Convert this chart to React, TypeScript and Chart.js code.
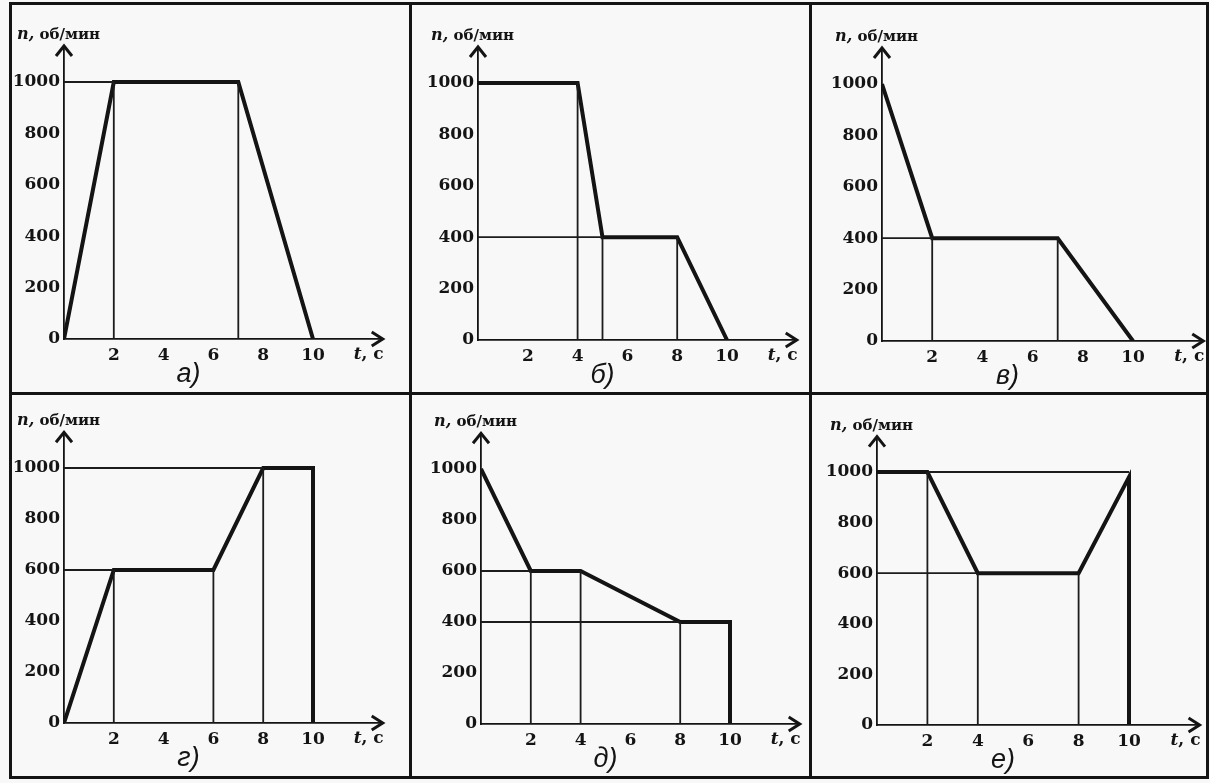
import React, { useEffect, useRef } from 'react';
import { Chart, registerables } from 'chart.js';

Chart.register(...registerables);

// ---- shared axis data ----
const xTicks = [2, 4, 6, 8, 10];
const yTicks = [0, 200, 400, 600, 800, 1000];
const X_MAX = 12.8;
const Y_MAX = 1140;
const yTitleVar = 'n,';
const yTitleUnit = ' об/мин';
const xTitleVar = 't';
const xTitleUnit = ', с';
const panelLetters = ['а)', 'б)', 'в)', 'г)', 'д)', 'е)'];

// ---- speed profiles (t, s ; n, rpm) ----
const timeA = [0, 2, 7, 10];
const speedA = [0, 1000, 1000, 0];
const timeB = [0, 4, 5, 8, 10];
const speedB = [1000, 1000, 400, 400, 0];
const timeV = [0, 2, 7, 10];
const speedV = [1000, 400, 400, 0];
const timeG = [0, 2, 6, 8, 10, 10];
const speedG = [0, 600, 600, 1000, 1000, 0];
const timeD = [0, 2, 4, 8, 10, 10];
const speedD = [1000, 600, 600, 400, 400, 0];
const timeE = [0, 2, 4, 8, 10, 10];
const speedE = [1000, 1000, 600, 600, 980, 0];

// ---- thin projection lines: [t1, n1, t2, n2] ----
const guidesA = [[2, 0, 2, 1000], [7, 0, 7, 1000], [0, 1000, 2, 1000]];
const guidesB = [[4, 0, 4, 1000], [5, 0, 5, 400], [8, 0, 8, 400], [0, 400, 5, 400]];
const guidesV = [[2, 0, 2, 400], [7, 0, 7, 400], [0, 400, 2, 400]];
const guidesG = [[2, 0, 2, 600], [6, 0, 6, 600], [8, 0, 8, 1000], [0, 600, 2, 600], [0, 1000, 8, 1000]];
const guidesD = [[2, 0, 2, 600], [4, 0, 4, 600], [8, 0, 8, 400], [0, 600, 2, 600], [0, 400, 8, 400]];
const guidesE = [[2, 0, 2, 1000], [4, 0, 4, 600], [8, 0, 8, 600], [0, 600, 4, 600], [2, 1000, 10, 1000]];

const profiles = [
  { t: timeA, n: speedA, g: guidesA },
  { t: timeB, n: speedB, g: guidesB },
  { t: timeV, n: speedV, g: guidesV },
  { t: timeG, n: speedG, g: guidesG },
  { t: timeD, n: speedD, g: guidesD },
  { t: timeE, n: speedE, g: guidesE },
];

// ---- page layout (pixels) ----
const panelBoxes = [
  { left: 10, top: 3, w: 400, h: 390, axisX: 54, unit: 24.9, y0: 336, y1000: 79 },
  { left: 410, top: 3, w: 400, h: 390, axisX: 68, unit: 24.9, y0: 337, y1000: 80 },
  { left: 810, top: 3, w: 397, h: 390, axisX: 72, unit: 25.1, y0: 338, y1000: 81 },
  { left: 10, top: 393, w: 400, h: 384, axisX: 54, unit: 24.9, y0: 330, y1000: 75 },
  { left: 410, top: 393, w: 400, h: 384, axisX: 71, unit: 24.9, y0: 331, y1000: 76 },
  { left: 810, top: 393, w: 397, h: 384, axisX: 67, unit: 25.2, y0: 332, y1000: 79 },
];

const Y_SCALE_W = 50;
const X_SCALE_H = 30;
const INK = '#141414';
const TICK_FONT = { family: '"DejaVu Serif", serif', weight: 'bold' as const, size: 17 };

const decorPlugin = {
  id: 'decor',
  afterDraw(chart: any) {
    const { ctx, chartArea: a, scales } = chart;
    const letter = chart.options.plugins.decor.letter;
    ctx.save();
    ctx.strokeStyle = INK;
    ctx.fillStyle = INK;
    ctx.lineWidth = 3;
    ctx.lineJoin = 'miter';
    ctx.lineCap = 'butt';
    // y arrow head
    ctx.beginPath();
    ctx.moveTo(a.left - 8, a.top + 10);
    ctx.lineTo(a.left, a.top);
    ctx.lineTo(a.left + 8, a.top + 10);
    ctx.stroke();
    // x arrow head
    ctx.beginPath();
    ctx.moveTo(a.right - 11, a.bottom - 7);
    ctx.lineTo(a.right, a.bottom);
    ctx.lineTo(a.right - 11, a.bottom + 7);
    ctx.stroke();
    // y title
    ctx.textAlign = 'left';
    ctx.textBaseline = 'alphabetic';
    let tx = a.left - 47;
    const ty = a.top - 7;
    ctx.font = 'italic bold 16px "DejaVu Serif"';
    ctx.fillText(yTitleVar, tx, ty);
    tx += ctx.measureText(yTitleVar).width;
    ctx.font = 'bold 15px "DejaVu Serif"';
    ctx.fillText(yTitleUnit, tx, ty);
    // x title
    ctx.font = 'italic bold 17px "DejaVu Serif"';
    const w1 = ctx.measureText(xTitleVar).width;
    ctx.font = 'bold 17px "DejaVu Serif"';
    const w2 = ctx.measureText(xTitleUnit).width;
    const xb = a.bottom + 20;
    let xx = a.right + 1 - w1 - w2;
    ctx.font = 'italic bold 17px "DejaVu Serif"';
    ctx.fillText(xTitleVar, xx, xb);
    xx += w1;
    ctx.font = 'bold 17px "DejaVu Serif"';
    ctx.fillText(xTitleUnit, xx, xb);
    // panel letter
    ctx.font = 'italic 27px "Liberation Sans"';
    ctx.textAlign = 'center';
    ctx.fillText(letter, scales.x.getPixelForValue(5), a.bottom + 43);
    ctx.restore();
  },
};

function Panel({ index }: { index: number }) {
  const ref = useRef<HTMLCanvasElement>(null);
  const box = panelBoxes[index];
  useEffect(() => {
    const prof = profiles[index];
    const pxPer = (box.y0 - box.y1000) / 1000;
    const top = box.y0 - Y_MAX * pxPer;
    const right = box.axisX + X_MAX * box.unit;
    const datasets: any[] = prof.g.map((s) => ({
      data: [{ x: s[0], y: s[1] }, { x: s[2], y: s[3] }],
      borderColor: '#1c1c1c',
      borderWidth: 1.8,
      pointRadius: 0,
      fill: false,
    }));
    datasets.push({
      data: prof.t.map((t, i) => ({ x: t, y: prof.n[i] })),
      borderColor: INK,
      borderWidth: 4,
      pointRadius: 0,
      fill: false,
      borderJoinStyle: 'miter',
      borderCapStyle: 'butt',
    });
    const chart = new Chart(ref.current!, {
      type: 'line',
      data: { datasets },
      plugins: [decorPlugin],
      options: {
        animation: false,
        responsive: false,
        events: [],
        layout: {
          padding: {
            left: box.axisX - Y_SCALE_W,
            top: top,
            right: box.w - right,
            bottom: box.h - box.y0 - X_SCALE_H,
          },
        },
        plugins: {
          legend: { display: false },
          tooltip: { enabled: false },
          decor: { letter: panelLetters[index] },
        } as any,
        scales: {
          x: {
            type: 'linear',
            min: 0,
            max: X_MAX,
            afterFit: (s: any) => { s.height = X_SCALE_H; },
            afterBuildTicks: (s: any) => { s.ticks = xTicks.map((v) => ({ value: v })); },
            grid: { display: false, drawTicks: false },
            border: { display: true, color: INK, width: 1.8 },
            ticks: { font: TICK_FONT, color: INK, padding: 6, maxRotation: 0, autoSkip: false, callback: (v: any) => String(v) },
          },
          y: {
            type: 'linear',
            min: 0,
            max: Y_MAX,
            afterFit: (s: any) => { s.width = Y_SCALE_W; },
            afterBuildTicks: (s: any) => { s.ticks = yTicks.map((v) => ({ value: v })); },
            grid: { display: false, drawTicks: false },
            border: { display: true, color: INK, width: 1.8 },
            ticks: { font: TICK_FONT, color: INK, padding: 4, autoSkip: false, callback: (v: any) => String(v) },
          },
        },
      } as any,
    });
    return () => chart.destroy();
  }, [index]);
  return (
    <canvas
      ref={ref}
      width={box.w}
      height={box.h}
      style={{ position: 'absolute', left: box.left, top: box.top, width: box.w, height: box.h }}
    />
  );
}

const frameV = [10, 410, 810, 1207];
const frameH = [3, 393, 777];

export default function App() {
  return (
    <div style={{ position: 'fixed', left: 0, top: 0, width: 1210, height: 783, background: '#f8f8f8', overflow: 'hidden' }}>
      {panelBoxes.map((_, i) => <Panel key={i} index={i} />)}
      {frameV.map((x, i) => (
        <div key={'v' + i} style={{ position: 'absolute', left: x - 1.5, top: frameH[0] - 1.5, width: 3, height: frameH[2] - frameH[0] + 3, background: INK }} />
      ))}
      {frameH.map((y, i) => (
        <div key={'h' + i} style={{ position: 'absolute', top: y - 1.5, left: frameV[0] - 1.5, height: 3, width: frameV[3] - frameV[0] + 3, background: INK }} />
      ))}
    </div>
  );
}
